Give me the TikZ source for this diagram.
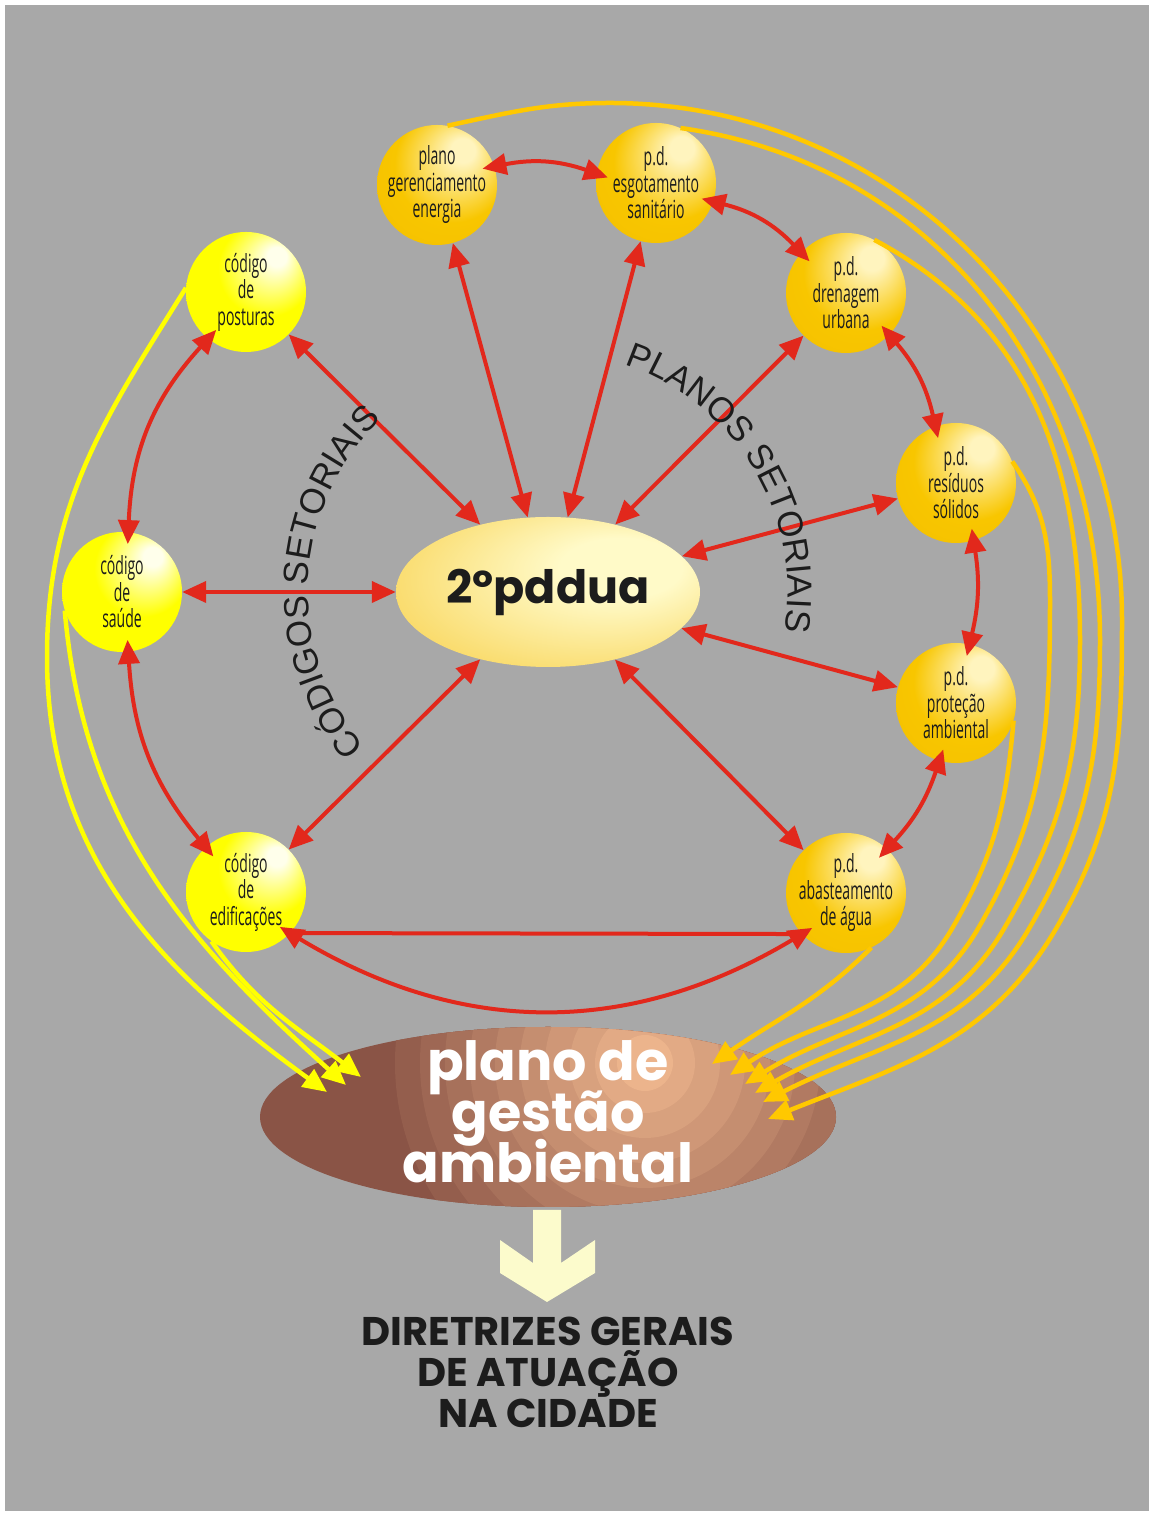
\documentclass[tikz,border=0pt]{standalone}
\usepackage{fontspec}
\usetikzlibrary{arrows.meta,decorations.text,shapes.geometric,calc}
\newfontfamily\geofont{Poppins}
\newfontfamily\labelfont{Open Sans}[FakeStretch=0.56]
\newfontfamily\arcfont{Liberation Sans}
\newcommand\tightlines{\lineskiplimit=-60pt\relax}

\definecolor{bggray}{RGB}{168,168,168}
\definecolor{arrowred}{RGB}{226,40,28}
\definecolor{codeline}{RGB}{255,255,0}
\definecolor{planline}{RGB}{255,200,0}
\definecolor{codefill}{RGB}{255,255,0}
\definecolor{codelight}{RGB}{255,255,235}
\definecolor{planfill}{RGB}{248,198,0}
\definecolor{planedge}{RGB}{242,188,0}
\definecolor{planlight}{RGB}{255,244,190}
\definecolor{pdfill}{RGB}{245,194,32}
\definecolor{pdlight}{RGB}{255,250,200}
\definecolor{browndark}{RGB}{138,84,70}
\definecolor{brownlight}{RGB}{236,180,140}
\definecolor{paleyellow}{RGB}{252,251,204}
\definecolor{inkdark}{RGB}{28,28,28}

\pgfdeclareradialshading{codeglow}{\pgfpoint{14bp}{16bp}}{color(0bp)=(codelight); color(4bp)=(codelight); color(20bp)=(codefill); color(50bp)=(codefill)}
\pgfdeclareradialshading{planglow}{\pgfpoint{12bp}{16bp}}{color(0bp)=(planlight); color(5bp)=(planlight); color(24bp)=(planfill); color(50bp)=(planedge)}
\pgfdeclareradialshading{pdglow}{\pgfpoint{15bp}{10bp}}{color(0bp)=(pdlight); color(10bp)=(pdlight); color(50bp)=(pdfill)}

\begin{document}
\begin{tikzpicture}[x=1pt,y=1pt,
  >={Triangle[length=24pt,width=21pt]},
  codeball/.style={circle, minimum size=120pt, inner sep=-8pt, shade, shading=codeglow,
    align=center, text=inkdark, font=\labelfont\fontsize{25}{26.5}\selectfont},
  planball/.style={codeball, shading=planglow},
  spoke/.style={draw=arrowred, line width=4pt, <->},
  ringlink/.style={spoke, shorten <=-12pt, shorten >=-12pt},
  codeflow/.style={draw=codeline, line width=4.5pt, ->},
  planflow/.style={codeflow, draw=planline},
  arctext/.style={decorate, decoration={text along path, text align=center, text color=inkdark}}
]
\useasboundingbox (0,0) rectangle (1149,1516);
\fill[white] (0,0) rectangle (1149,1516);
\fill[bggray] (5,5) rectangle (1149,1511);

% planos setoriais
\node[planball] (ger) at (437,1331) {plano\\gerenciamento\\energia};
\node[planball] (esg) at (656,1333) {p.d.\\esgotamento\\sanitário};
\node[planball] (dren) at (846,1223) {p.d.\\drenagem\\urbana};
\node[planball] (resid) at (956,1033) {p.d.\\resíduos\\sólidos};
\node[planball] (prot) at (956,813) {p.d.\\proteção\\ambiental};
\node[planball] (abast) at (846,623) {p.d.\\abasteamento\\de água};
% codigos setoriais
\node[codeball] (post) at (246,1224) {código\\de\\posturas};
\node[codeball] (saude) at (122,924) {código\\de\\saúde};
\node[codeball] (edif) at (246,624) {código\\de\\edificações};

\node[ellipse, minimum width=304pt, minimum height=150pt, inner sep=0pt, shade, shading=pdglow,
  text=inkdark, font=\geofont\bfseries\fontsize{46}{46}\selectfont] (pddua) at (548,924) {2ºpddua};

% plano de gestao, banded brown
\node[ellipse, minimum width=576pt, minimum height=180pt, inner sep=0pt, fill=browndark] (gestao) at (548,399) {};
\begin{scope}
  \clip (gestao.center) ellipse [x radius=288, y radius=90];
  \foreach \r/\p in {250/10,225/20,200/30,175/40,150/50,125/60,100/70,75/80,50/90,28/100}
    \fill[brownlight!\p!browndark] (645,453) circle [radius=\r];
\end{scope}
\node[text=white, align=center, font=\geofont\bfseries\fontsize{54}{51}\selectfont\tightlines]
  (gestaolabel) at ($(gestao)+(0,5)$) {plano de\\gestão\\ambiental};

% coordinates of the arrow tips on the bottom ellipse
\coordinate (codetipA) at (327,424);
\coordinate (codetipB) at (346,431);
\coordinate (codetipC) at (361,439);
\coordinate (plantipA) at (712,452);
\coordinate (plantipB) at (730,441);
\coordinate (plantipC) at (745,432);
\coordinate (plantipD) at (755,423);
\coordinate (plantipE) at (763,414);
\coordinate (plantipF) at (768,397);

% flows to the plano de gestao
\draw[codeflow] (post.176) to[out=238,in=90] (47,859) to[out=-90,in=144] (codetipA);
\draw[codeflow] (saude.198) to[out=-85,in=138] (codetipB);
\draw[codeflow] (edif.235) to[out=-55,in=142] (codetipC);
\draw[planflow] (ger.80) to[out=12,in=180] (610,1413) to[out=0,in=90] (1122,896)
  to[out=-90,in=60] (1057,589) to[out=240,in=22] (plantipF);
\draw[planflow] (esg.66) to[out=-8,in=90] (1100,876) to[out=-90,in=60] (1030,589)
  to[out=240,in=27] (plantipE);
\draw[planflow] (dren.62) to[out=-28,in=90] (1080,876) to[out=-90,in=60] (1005,589)
  to[out=240,in=30] (plantipD);
\draw[planflow] (resid.21) to[out=-55,in=90] (1050,916) to[out=-90,in=60] (979,589)
  to[out=240,in=32] (plantipC);
\draw[planflow] (prot.-17) to[out=-95,in=60] (953,589) to[out=240,in=34] (plantipB);
\draw[planflow] (abast.-65) to[out=225,in=35] (plantipA);

% links with the 2o pddua
\foreach \n in {post,saude,edif,ger,esg,dren,resid,prot,abast}
  \draw[spoke] (\n) -- (pddua);

% ring links
\draw[ringlink] (ger.18) to[bend left=15] (esg.171);
\draw[ringlink] (esg.-18) to[bend left=16] (dren.138);
\draw[ringlink] (dren.-44) to[bend left=14] (resid.110);
\draw[ringlink] (resid.-73) to[bend left=11] (prot.77);
\draw[ringlink] (prot.-106) to[bend left=12] (abast.47);
\draw[ringlink] (abast.-137) to[bend left=31] (edif.-43);
\draw[draw=arrowred, line width=4pt] (edif.-43) -- (abast.-137);
\draw[ringlink] (post.-129) to[bend right=20] (saude.84);
\draw[ringlink] (saude.-84) to[bend right=18] (edif.132);

% arc labels
\path[arctext, decoration={text={|\arcfont\fontsize{35}{35}\selectfont|PLANOS SETORIAIS}}]
  (pddua.center) ++(77:240) arc[start angle=77, end angle=-15, radius=240];
\path[arctext, decoration={text={|\arcfont\fontsize{35}{35}\selectfont|CÓDIGOS SETORIAIS}}]
  (pddua.center) ++(229:240) arc[start angle=229, end angle=125, radius=240];

% arrow to the diretrizes
\fill[paleyellow] (533,306) -- (533,253) -- (500,276) -- (500,243) -- (547,214)
  -- (595,243) -- (595,276) -- (561,253) -- (561,306) -- cycle;
\node[text=inkdark, align=center, font=\geofont\bfseries\fontsize{40}{41}\selectfont] (diretrizes) at (548,144)
  {DIRETRIZES GERAIS\\DE ATUAÇÃO\\NA CIDADE};
\end{tikzpicture}
\end{document}
